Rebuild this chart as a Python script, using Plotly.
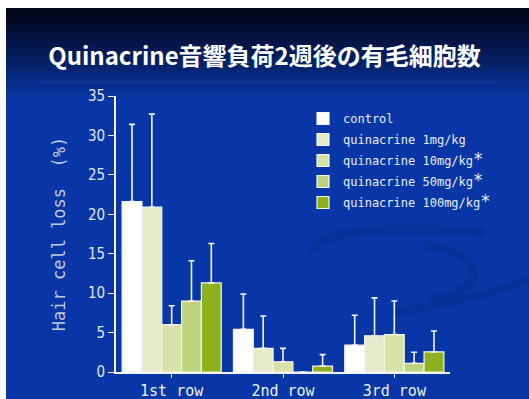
import plotly.graph_objects as go

# ---- data -------------------------------------------------------------
rows = ["1st row", "2nd row", "3rd row"]

control_mean = [21.6, 5.4, 3.4]
control_sd = [9.8, 4.5, 3.8]

q1_mean = [20.9, 3.0, 4.6]
q1_sd = [11.8, 4.1, 4.8]

q10_mean = [6.0, 1.3, 4.75]
q10_sd = [2.4, 1.7, 4.25]

q50_mean = [9.0, 0.0, 1.1]
q50_sd = [5.1, None, 1.4]

q100_mean = [11.3, 0.75, 2.55]
q100_sd = [5.0, 1.45, 2.65]

STAR = "<span style='font-size:17px'>*</span>"
series_names = [
    "control",
    "quinacrine 1mg/kg",
    "quinacrine 10mg/kg" + STAR,
    "quinacrine 50mg/kg" + STAR,
    "quinacrine 100mg/kg" + STAR,
]
series_means = [control_mean, q1_mean, q10_mean, q50_mean, q100_mean]
series_sds = [control_sd, q1_sd, q10_sd, q50_sd, q100_sd]
series_colors = ["#ffffff", "#e4ebcb", "#d6e2a6", "#bdd37e", "#8db01c"]

title_text = "Quinacrine音響負荷2週後の有毛細胞数"
y_title = "Hair cell loss  (%)"

# ---- page geometry ----------------------------------------------------
W_PX, H_PX = 529, 399
M_L, M_R, M_T, M_B = 116, 79, 96, 27
PLOT_W = W_PX - M_L - M_R
PLOT_H = H_PX - M_T - M_B


def px_x(px):
    return (px - M_L) / PLOT_W


def px_y(py):
    return (H_PX - M_B - py) / PLOT_H


fig = go.Figure()

for name, means, sds, color in zip(series_names, series_means, series_sds, series_colors):
    fig.add_trace(
        go.Bar(
            name=name,
            x=rows,
            y=means,
            legendgroup=name,
            marker=dict(color=color, line=dict(color="#f4f6ee", width=1.2)),
            error_y=dict(
                type="data",
                array=sds,
                arrayminus=[0 if s is not None else None for s in sds],
                symmetric=False,
                color="#f2f4f8",
                thickness=1.6,
                width=3,
            ),
        )
    )

# ---- slide background -------------------------------------------------
shapes = []
# white frame strip on the top and left edges
shapes.append(dict(type="rect", xref="paper", yref="paper", x0=px_x(-5), x1=px_x(W_PX + 5),
                   y0=px_y(-5), y1=px_y(H_PX + 5), fillcolor="#ffffff", line_width=0, layer="below"))
base_blue = (8, 54, 166)
shapes.append(dict(type="rect", xref="paper", yref="paper", x0=px_x(6), x1=px_x(W_PX + 5),
                   y0=px_y(8), y1=px_y(H_PX + 5), fillcolor="rgb(%d,%d,%d)" % base_blue,
                   line_width=0, layer="below"))
# dark-to-blue gradient in the header band
top_col = (2, 5, 22)
g_top, g_bot = 8, 100
steps = 46
for i in range(steps):
    t = i / (steps - 1)
    c = tuple(int(round(a + (b - a) * (t ** 1.1))) for a, b in zip(top_col, base_blue))
    ya = g_top + (g_bot - g_top) * i / steps
    yb = g_top + (g_bot - g_top) * (i + 1) / steps
    shapes.append(dict(type="rect", xref="paper", yref="paper", x0=px_x(6), x1=px_x(W_PX + 5),
                       y0=px_y(yb + 0.5), y1=px_y(ya), fillcolor="rgb(%d,%d,%d)" % c,
                       line_width=0, layer="below"))
# faint rule under the header
shapes.append(dict(type="line", xref="paper", yref="paper", x0=px_x(40), x1=px_x(500),
                   y0=px_y(82), y1=px_y(82), line=dict(color="rgba(120,150,220,0.14)", width=1),
                   layer="below"))


# soft swirl decoration in the lower right
def arc_path(points):
    p = "M %f,%f" % (px_x(points[0][0]), px_y(points[0][1]))
    for (c1, c2, e) in points[1:]:
        p += " C %f,%f %f,%f %f,%f" % (px_x(c1[0]), px_y(c1[1]), px_x(c2[0]), px_y(c2[1]),
                                       px_x(e[0]), px_y(e[1]))
    return p


swirl = "rgba(6,40,130,0.35)"
shapes.append(dict(type="path", xref="paper", yref="paper",
                   path=arc_path([(312, 252), ((320, 225), (420, 228), (485, 232))]),
                   line=dict(color=swirl, width=9), layer="below"))
shapes.append(dict(type="path", xref="paper", yref="paper",
                   path=arc_path([(425, 245), ((470, 250), (505, 285), (430, 300))]),
                   line=dict(color=swirl, width=8), layer="below"))
shapes.append(dict(type="path", xref="paper", yref="paper",
                   path=arc_path([(395, 312), ((450, 305), (500, 290), (529, 280))]),
                   line=dict(color=swirl, width=8), layer="below"))

fig.update_layout(
    width=W_PX,
    height=H_PX,
    margin=dict(l=M_L, r=M_R, t=M_T, b=M_B, pad=0, autoexpand=False),
    paper_bgcolor="#0836a6",
    plot_bgcolor="rgba(0,0,0,0)",
    barmode="group",
    bargap=0.11,
    bargroupgap=0,
    shapes=shapes,
    showlegend=True,
    title=dict(
        text="<b>" + title_text + "</b>",
        x=0.5,
        xref="container",
        xanchor="center",
        y=1 - 57 / H_PX,
        yref="container",
        yanchor="middle",
        font=dict(family="Noto Sans CJK JP, Noto Sans", size=24, color="#ffffff"),
    ),
    legend=dict(
        x=px_x(303),
        y=px_y(104),
        xanchor="left",
        yanchor="top",
        bgcolor="rgba(0,0,0,0)",
        font=dict(family="DejaVu Sans Mono, Liberation Mono", size=12, color="#e8eef8"),
        tracegroupgap=2,
        traceorder="grouped",
        itemclick=False,
    ),
    xaxis=dict(
        type="category",
        showline=True,
        linecolor="#f2f4f8",
        linewidth=1.6,
        ticks="outside",
        ticklen=4,
        tickwidth=1.4,
        tickcolor="#f2f4f8",
        showgrid=False,
        zeroline=False,
        automargin=False,
        tickfont=dict(family="DejaVu Sans Mono, Liberation Mono", size=15, color="#eef2f8"),
    ),
    yaxis=dict(
        range=[0, 35],
        dtick=5,
        showline=True,
        linecolor="#f2f4f8",
        linewidth=1.6,
        ticks="outside",
        ticklen=6,
        tickwidth=1.4,
        tickcolor="#f2f4f8",
        showgrid=False,
        zeroline=False,
        automargin=False,
        tickfont=dict(family="Liberation Sans Narrow, DejaVu Sans Condensed, Liberation Sans",
                      size=15, color="#e2e8f4"),
        title=dict(
            text=y_title,
            standoff=18,
            font=dict(family="DejaVu Sans Mono, Liberation Mono", size=17, color="#c0c9dc"),
        ),
    ),
)

fig.write_html("out.html")
